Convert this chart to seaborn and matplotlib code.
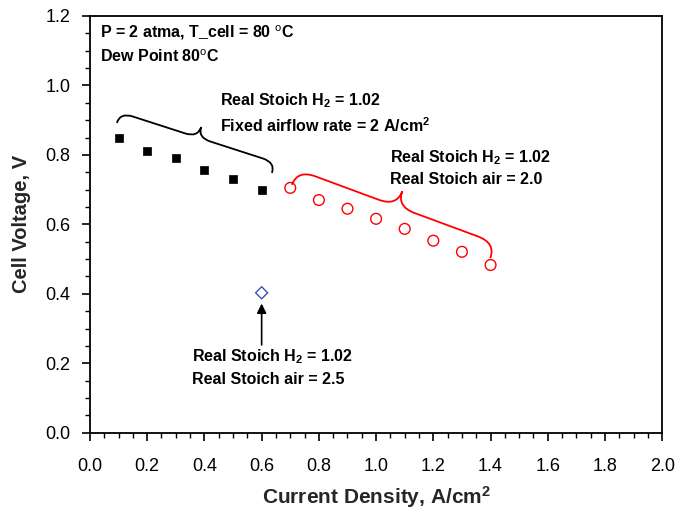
import numpy as np
import pandas as pd
import matplotlib
matplotlib.use("Agg")
import matplotlib.pyplot as plt
from matplotlib.path import Path as MPath
from matplotlib.patches import PathPatch
from matplotlib.ticker import MultipleLocator, FormatStrFormatter
import seaborn as sns

# data
fixed_air_x = [0.1, 0.2, 0.3, 0.4, 0.5, 0.6]
fixed_air_v = [0.849, 0.811, 0.791, 0.757, 0.731, 0.699]
stoich20_x = [0.7, 0.8, 0.9, 1.0, 1.1, 1.2, 1.3, 1.4]
stoich20_v = [0.705, 0.670, 0.645, 0.616, 0.587, 0.553, 0.521, 0.483]
stoich25_x = [0.6]
stoich25_v = [0.403]

sns.set_theme(style="ticks")
plt.rcParams["font.family"] = ["Liberation Sans", "DejaVu Sans"]
plt.rcParams["mathtext.fontset"] = "custom"
plt.rcParams["mathtext.rm"] = "Liberation Sans"
plt.rcParams["mathtext.bf"] = "Liberation Sans:bold"
plt.rcParams["mathtext.default"] = "bf"

fig = plt.figure(figsize=(6.92, 5.14), dpi=100)
ax = fig.add_axes([0.130, 0.158, 0.827, 0.811])

df1 = pd.DataFrame({"x": fixed_air_x, "v": fixed_air_v})
df2 = pd.DataFrame({"x": stoich20_x, "v": stoich20_v})
df3 = pd.DataFrame({"x": stoich25_x, "v": stoich25_v})
sns.scatterplot(data=df1, x="x", y="v", ax=ax, marker="s", s=38, color="black",
                edgecolor="black", linewidth=0.5, zorder=3)
sns.scatterplot(data=df2, x="x", y="v", ax=ax, marker="o", s=60, facecolor="none",
                edgecolor="#ff0000", linewidth=1.0, zorder=3)
sns.scatterplot(data=df3, x="x", y="v", ax=ax, marker="D", s=38, facecolor="none",
                edgecolor="#3355bb", linewidth=1.0, zorder=3)

ax.set_xlim(0, 2.0)
ax.set_ylim(0, 1.2)
ax.xaxis.set_major_locator(MultipleLocator(0.2))
ax.xaxis.set_minor_locator(MultipleLocator(0.05))
ax.yaxis.set_major_locator(MultipleLocator(0.2))
ax.yaxis.set_minor_locator(MultipleLocator(0.05))
ax.xaxis.set_major_formatter(FormatStrFormatter("%.1f"))
ax.yaxis.set_major_formatter(FormatStrFormatter("%.1f"))
ax.tick_params(which="major", direction="out", length=6, width=1.2, labelsize=13,
               colors="black", pad=8)
ax.tick_params(which="minor", direction="out", length=3.5, width=1.0, colors="black")
ax.tick_params(axis="x", which="major", pad=12)
for sp in ax.spines.values():
    sp.set_visible(True)
    sp.set_linewidth(1.3)
    sp.set_color("black")

ax.set_xlabel("Current Density, A/cm$^2$", fontsize=15, fontweight="bold")
ax.xaxis.label.set_va("center")
ax.xaxis.set_label_coords(0.5, -0.153)
ax.set_ylabel("Cell Voltage, V", fontsize=14.5, fontweight="bold")
ax.yaxis.label.set_va("center")
ax.yaxis.set_label_coords(-0.119, 0.5)

txt = dict(fontsize=11.5, fontweight="bold", color="black", ha="left", va="center")
ax.text(0.035, 1.151, r"P = 2 atma, T_cell = 80 $^{\mathrm{o}}$C", **txt)
ax.text(0.035, 1.082, r"Dew Point 80$^{\mathrm{o}}$C", **txt)
ax.text(0.455, 0.955, r"Real Stoich H$_2$ = 1.02", **txt)
ax.text(0.455, 0.883, r"Fixed airflow rate = 2 A/cm$^2$", **txt)
ax.text(1.049, 0.791, r"Real Stoich H$_2$ = 1.02", **txt)
ax.text(1.049, 0.728, "Real Stoich air = 2.0", **txt)
ax.text(0.357, 0.219, r"Real Stoich H$_2$ = 1.02", **txt)
ax.text(0.357, 0.153, "Real Stoich air = 2.5", **txt)

ax.annotate("", xy=(0.6, 0.372), xytext=(0.6, 0.253),
            arrowprops=dict(arrowstyle="-|>", color="black", lw=1.2,
                            mutation_scale=14, shrinkA=0, shrinkB=0))


def brace(ax, p0, p1, h, color):
    """Curly brace between two data points, tip bulging h pixels to the left-up side."""
    a = ax.transData.transform(p0)
    b = ax.transData.transform(p1)
    d = b - a
    L = np.hypot(*d)
    u = d / L
    n = np.array([-u[1], u[0]])
    r = h * 0.6
    m = (a + b) / 2
    pts = [a,
           a + h / 2 * n, a + r * u + h / 2 * n,
           m - r * u + h / 2 * n,
           m + h / 2 * n, m + h * n,
           m + h / 2 * n, m + r * u + h / 2 * n,
           b - r * u + h / 2 * n,
           b + h / 2 * n, b]
    codes = [MPath.MOVETO,
             MPath.CURVE3, MPath.CURVE3,
             MPath.LINETO,
             MPath.CURVE3, MPath.CURVE3,
             MPath.CURVE3, MPath.CURVE3,
             MPath.LINETO,
             MPath.CURVE3, MPath.CURVE3]
    patch = PathPatch(MPath(pts, codes), transform=None, fill=False,
                      edgecolor=color, linewidth=1.3, zorder=2)
    fig.add_artist(patch)


brace(ax, (0.094, 0.892), (0.636, 0.748), 22, "black")
brace(ax, (0.706, 0.714), (1.399, 0.503), 32, "#ff0000")

fig.savefig("out.png", dpi=100)
